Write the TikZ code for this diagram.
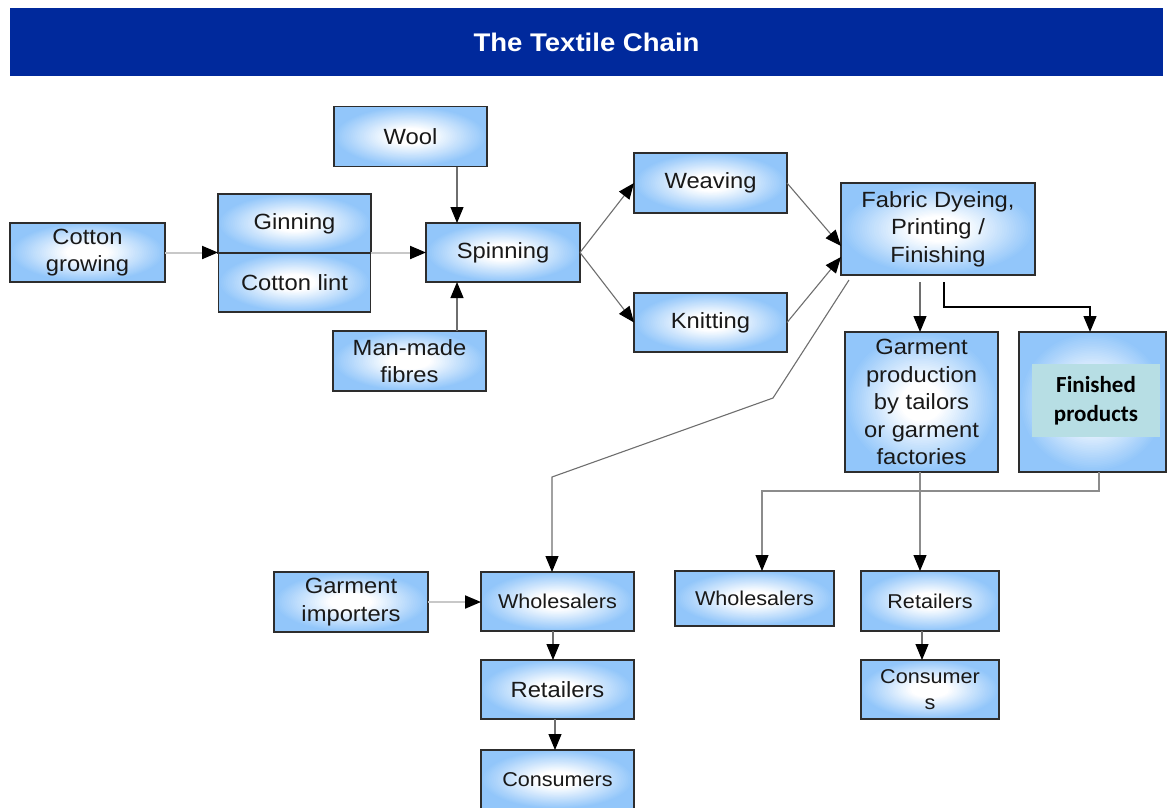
\documentclass[tikz,border=0pt]{standalone}
\usepackage{fontspec}
\setmainfont[FakeStretch=1.08]{Liberation Sans}
\newfontfamily\calib{Carlito}
\usetikzlibrary{arrows.meta,calc}

\definecolor{titleblue}{RGB}{0,41,156}
\definecolor{boxblue}{RGB}{146,198,250}
\definecolor{boxedge}{RGB}{45,45,45}
\definecolor{lightline}{RGB}{200,200,200}
\definecolor{midline}{RGB}{110,110,110}
\definecolor{tealpanel}{RGB}{183,222,228}

% soft white centre fading to blue towards the box edges,
% built from stacked ellipses so it does not depend on driver shadings
\tikzset{glow/.style={path picture={
  \fill[boxblue] (path picture bounding box.south west) rectangle (path picture bounding box.north east);
  \foreach \k in {0,...,30}{
    \pgfmathsetmacro\rr{50-36*\k/30}
    \pgfmathsetmacro\pc{100*(\rr-14)/36}
    \fill[boxblue!\pc!white]
      let \p1=($(path picture bounding box.north east)-(path picture bounding box.center)$) in
      (path picture bounding box.center) ellipse ({\x1*\rr/50} and {\y1*\rr/50});
  }
}}}

\begin{document}
\begin{tikzpicture}[x=1pt,y=1pt,
  box/.style={draw=boxedge, line width=1.3pt, glow, align=center,
    inner sep=2pt, outer sep=0pt, text=black!90,
    font=\fontsize{22}{27.5}\selectfont},
  wh/.style 2 args={minimum width=#1pt, minimum height=#2pt},
  small/.style={font=\fontsize{20}{26}\selectfont},
  tip/.style={-{Triangle[length=16pt,width=13pt,color=black]}},
  link/.style={draw=midline, line width=1.1pt, tip},
  pale/.style={draw=lightline, line width=2pt, tip},
  soft/.style={draw=black!45, line width=1.1pt, tip},
  strong/.style={draw=black, line width=1.3pt, tip},
]
\useasboundingbox (0,0) rectangle (1167,-807);

% title bar
\node[fill=titleblue, wh={1153}{68}, inner sep=0pt, text=white,
  font=\fontsize{25.5}{30}\selectfont\bfseries] (title) at (586.5,-42) {The Textile Chain};

% raw materials and spinning
\node[box, wh={155}{59}] (cotton)   at (87.5,-252.5) {Cotton\\growing};
\node[box, wh={153}{59}] (ginning)  at (294.5,-223.5) {Ginning};
\node[box, wh={152}{59}] (lint)     at (294.5,-282.5) {Cotton lint};
\node[box, wh={153}{60}] (wool)     at (410.5,-136.5) {Wool};
\node[box, wh={154}{59}] (spinning) at (503,-252.5) {Spinning};
\node[box, wh={153}{60}] (manmade)  at (409.5,-361) {Man-made\\fibres};

% fabric making
\node[box, wh={153}{60}] (weaving)  at (710.5,-183) {Weaving};
\node[box, wh={153}{59}] (knitting) at (710.5,-322.5) {Knitting};
\node[box, wh={194}{92}] (fabric)   at (938,-229) {Fabric Dyeing,\\Printing /\\Finishing};

% products
\node[box, wh={153}{140}] (garment)  at (921.5,-402) {Garment\\production\\by tailors\\or garment\\factories};
\node[box, wh={147}{140}] (finished) at (1092.5,-402) {};
\node[fill=tealpanel, wh={128}{73}, align=center, inner sep=0pt,
  font=\fontsize{23}{29}\calib\bfseries] (finlabel) at (1096,-400.5) {Finished\\products};

% distribution, left branch
\node[box, wh={154}{60}] (importers) at (351,-602) {Garment\\importers};
\node[box, small, wh={153}{59}] (whole1) at (557.5,-601.5) {Wholesalers};
\node[box, wh={153}{59}] (retail1) at (557.5,-689.5) {Retailers};
\node[box, small, wh={153}{59}] (cons1) at (557.5,-779.5) {Consumers};

% distribution, right branch
\node[box, small, wh={159}{55}] (whole2) at (754.5,-598.5) {Wholesalers};
\node[box, small, wh={138}{60}] (retail2) at (930,-601) {Retailers};
\node[box, small, wh={138}{59}] (cons2) at (930,-689.5) {Consumer\\s};

% connectors
\coordinate (wcol) at (457,0);
\draw[link] (wool.south -| wcol) -- (spinning.north -| wcol);
\draw[link] (manmade.north -| wcol) -- (spinning.south -| wcol);
\draw[pale] (cotton.east) -- (cotton.east -| ginning.west);
\draw[pale] (spinning.west -| ginning.east) -- (spinning.west);
\draw[link] (spinning.east) -- (weaving.west);
\draw[link] (spinning.east) -- (knitting.west);
\draw[link] (weaving.east) -- ($(fabric.west)+(0,-17)$);
\draw[link] (knitting.east) -- ($(fabric.west)+(0,-28)$);

\draw[link] ($(fabric.south)+(-18,-7)$) coordinate (gcol) -- (gcol |- garment.north);
\draw[strong] ($(fabric.south)+(6,-7)$) |- ($(finished.north)+(-2.5,25)$)
  -- ($(finished.north)+(-2.5,0)$);

\coordinate (bendA) at (773,-398);
\coordinate (bendB) at (552,-477);
\draw[link] ($(fabric.south)+(-89,-5)$) -- (bendA) -- (bendB) -- (bendB |- whole1.north);

\draw[soft] ($(finished.south)+(6.5,0)$) |- ($(whole2.north)+(7.5,80)$)
  -- ($(whole2.north)+(7.5,0)$);
\draw[soft] (garment.south -| gcol) -- (retail2.north -| gcol);

\draw[pale] (importers.east) -- (importers.east -| whole1.west);
\draw[link] ($(whole1.south)+(-4.5,0)$) coordinate (wr) -- (wr |- retail1.north);
\draw[link] ($(retail1.south)+(-2.5,0)$) coordinate (rc) -- (rc |- cons1.north);
\draw[link] ($(retail2.south)+(-8,0)$) coordinate (rc2) -- (rc2 |- cons2.north);
\end{tikzpicture}
\end{document}
